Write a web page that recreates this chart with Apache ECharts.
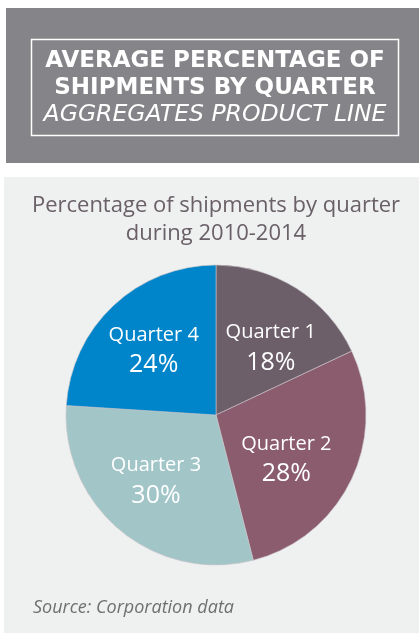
<!DOCTYPE html>
<html><head><meta charset="utf-8">
<script src="https://cdn.jsdelivr.net/npm/echarts@6/dist/echarts.min.js"></script>
<style>html,body{margin:0;padding:0;background:#fff;}#c{width:419px;height:633px;}</style>
</head><body><div id="c"></div>
<script>
const categories = ['Quarter 1', 'Quarter 2', 'Quarter 3', 'Quarter 4'];
const values = [18, 28, 30, 24];
const headerLines = ['AVERAGE PERCENTAGE OF', 'SHIPMENTS BY QUARTER', 'AGGREGATES PRODUCT LINE'];
const subtitleLines = ['Percentage of shipments by quarter', 'during 2010-2014'];
const sourceText = 'Source: Corporation data';
const sliceColors = ['#6c5f6a', '#8b5c6d', '#a2c5c8', '#0085cb'];

const FONT = '"Open Sans", "Noto Sans", sans-serif';
const HFONT = '"DejaVu Sans", sans-serif';
const chart = echarts.init(document.getElementById('c'), null, {renderer: 'canvas'});
const data = categories.map((n, i) => ({name: n, value: values[i], itemStyle: {color: sliceColors[i]}}));
// small nudges so labels sit where the reference puts them
const labelNudge = {'Quarter 1': [6, 10], 'Quarter 2': [-12, 6], 'Quarter 3': [-2, -4], 'Quarter 4': [0, 2]};

chart.setOption({
  animation: false,
  graphic: [
    {type: 'rect', z: -10, shape: {x: 6, y: 8, width: 413, height: 155}, style: {fill: '#858589'}},
    {type: 'rect', z: -10, shape: {x: 4, y: 177, width: 415, height: 456}, style: {fill: '#eff0f0'}},
    {type: 'rect', z: -5, shape: {x: 31.5, y: 39.5, width: 367, height: 96}, style: {fill: 'none', stroke: '#ffffff', lineWidth: 1.5}},
    {type: 'text', x: 215, y: 61, style: {text: headerLines[0], fill: '#fff', font: 'bold 23px ' + HFONT, align: 'center', verticalAlign: 'middle'}},
    {type: 'text', x: 215, y: 88, style: {text: headerLines[1], fill: '#fff', font: 'bold 23px ' + HFONT, align: 'center', verticalAlign: 'middle'}},
    {type: 'text', x: 215, y: 115, style: {text: headerLines[2], fill: '#fff', font: 'italic 23.5px ' + HFONT, align: 'center', verticalAlign: 'middle'}},
    {type: 'text', x: 216, y: 206, style: {text: subtitleLines[0], fill: '#6a6068', font: '22px ' + FONT, align: 'center', verticalAlign: 'middle'}},
    {type: 'text', x: 216, y: 234, style: {text: subtitleLines[1], fill: '#6a6068', font: '22px ' + FONT, align: 'center', verticalAlign: 'middle'}},
    {type: 'text', x: 33, y: 608, style: {text: sourceText, fill: '#6f6f6f', font: 'italic 18px ' + FONT, align: 'left', verticalAlign: 'middle'}}
  ],
  series: [
    {
      type: 'pie', center: [216, 415], radius: [0, 150], startAngle: 90, clockwise: true,
      silent: true, label: {show: false}, labelLine: {show: false},
      itemStyle: {borderColor: '#c9c4c8', borderWidth: 0.6},
      data: data
    },
    {
      type: 'pie', center: [216, 415], radius: [26, 150], startAngle: 90, clockwise: true,
      silent: true, z: 5,
      itemStyle: {color: 'rgba(0,0,0,0)', borderWidth: 0},
      labelLine: {show: false},
      label: {
        show: true, position: 'inside',
        formatter: '{a|{b}}\n{p|{c}%}',
        rich: {
          a: {color: '#fff', fontSize: 20, fontFamily: FONT, lineHeight: 29},
          p: {color: '#fff', fontSize: 25, fontFamily: FONT, lineHeight: 31}
        }
      },
      data: categories.map((n, i) => ({name: n, value: values[i], label: {offset: labelNudge[n]}}))
    }
  ]
});
</script></body></html>
